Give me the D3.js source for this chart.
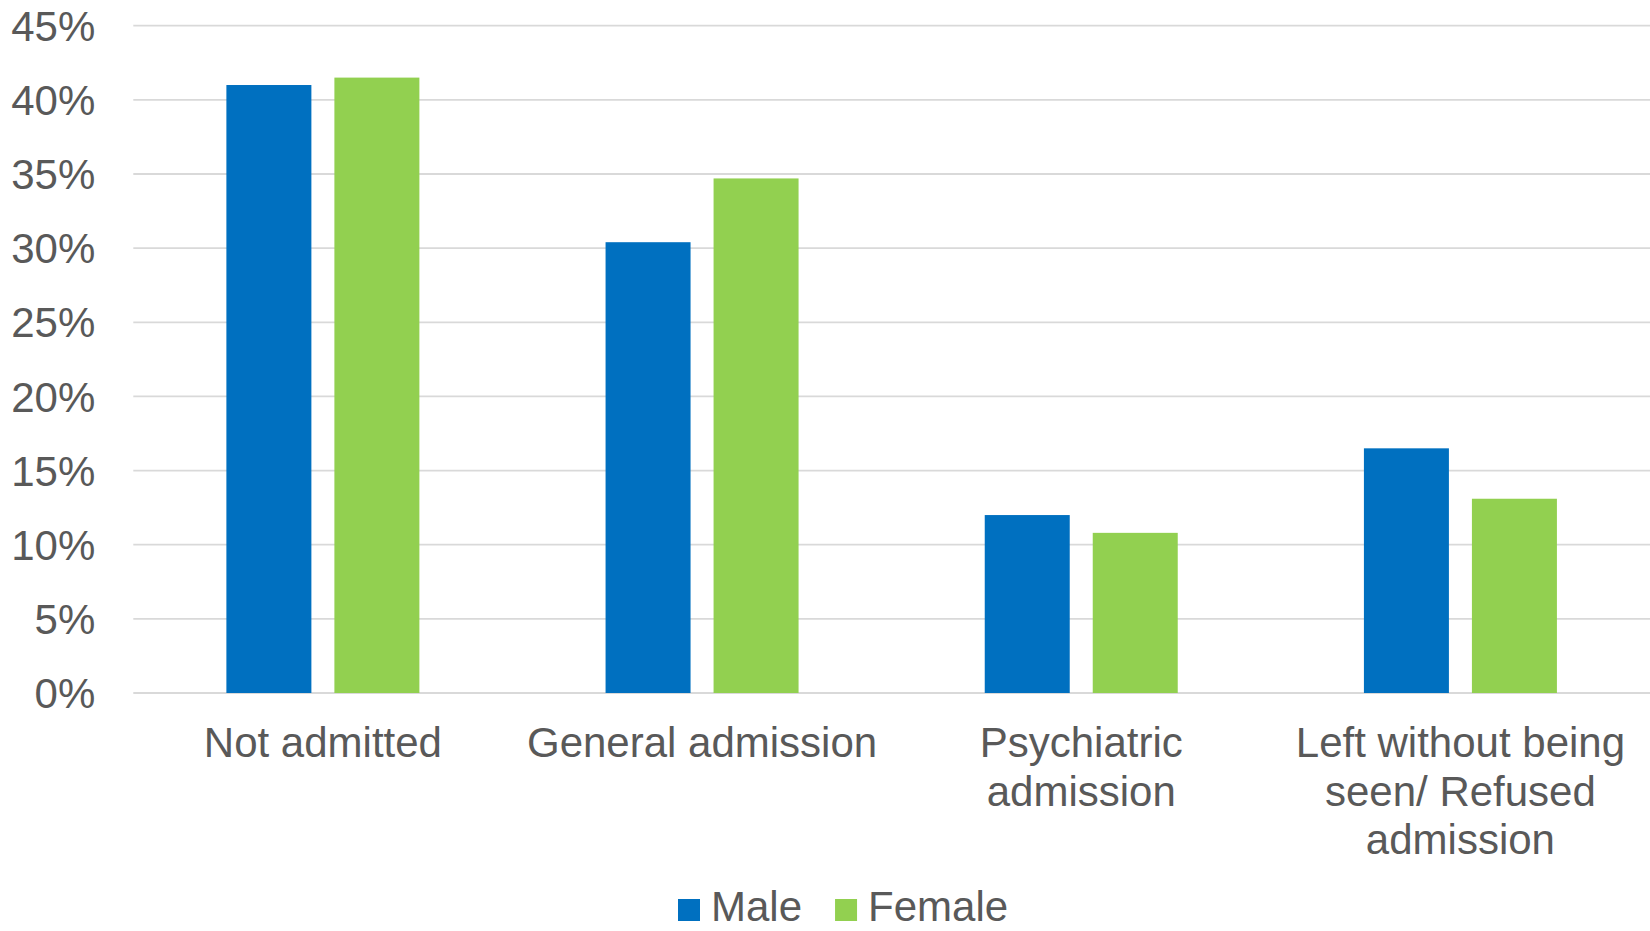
<!DOCTYPE html>
<html>
<head>
<meta charset="utf-8">
<script src="https://cdn.jsdelivr.net/npm/d3@7"></script>
<style>
  html, body { margin: 0; padding: 0; background: #fff; }
  svg { display: block; font-family: "Liberation Sans", Arial, sans-serif; }
</style>
</head>
<body>
<svg id="chart" width="1650" height="931"></svg>
<script>
// Outcome categories and share of presentations by sex
const categories = ["Not admitted", "General admission", "Psychiatric admission", "Left without being seen/ Refused admission"];
const seriesNames = ["Male", "Female"];
const maleValues = [0.410, 0.304, 0.120, 0.165];
const femaleValues = [0.415, 0.347, 0.108, 0.131];
const yTicks = [0, 0.05, 0.10, 0.15, 0.20, 0.25, 0.30, 0.35, 0.40, 0.45];
const colors = { Male: "#0070C0", Female: "#92D050" };

const textColor = "#595959";
const fontSize = 42;

const svg = d3.select("#chart");
const plot = { left: 133.3, right: 1650, top: 25.7, bottom: 693 };

const x0 = d3.scaleBand()
  .domain(categories)
  .range([plot.left, plot.right])
  .paddingInner(0.491)
  .paddingOuter(0.2455);

const x1 = d3.scaleBand()
  .domain(seriesNames)
  .range([0, x0.bandwidth()])
  .paddingInner(0.213)
  .paddingOuter(0);

const y = d3.scaleLinear()
  .domain([0, 0.45])
  .range([plot.bottom, plot.top]);

// Horizontal gridlines
svg.append("g")
  .selectAll("line")
  .data(yTicks)
  .join("line")
  .attr("x1", plot.left)
  .attr("x2", plot.right)
  .attr("y1", d => y(d))
  .attr("y2", d => y(d))
  .attr("stroke", "#d9d9d9")
  .attr("stroke-width", 1.8);

// Y axis labels
const yAxis = d3.axisLeft(y)
  .tickValues(yTicks)
  .tickFormat(d3.format(".0%"))
  .tickSize(0)
  .tickPadding(38);

const yg = svg.append("g")
  .attr("transform", `translate(${plot.left},0)`)
  .call(yAxis);
yg.select(".domain").remove();
yg.selectAll("text")
  .attr("fill", textColor)
  .attr("font-size", fontSize)
  .attr("font-family", "'Liberation Sans', Arial, sans-serif")
  .attr("dy", "0.35em");

// Bars
const rows = categories.map((c, i) => ({
  category: c,
  values: [
    { key: "Male", value: maleValues[i] },
    { key: "Female", value: femaleValues[i] }
  ]
}));

svg.append("g")
  .selectAll("g")
  .data(rows)
  .join("g")
  .attr("transform", d => `translate(${x0(d.category)},0)`)
  .selectAll("rect")
  .data(d => d.values)
  .join("rect")
  .attr("x", d => x1(d.key))
  .attr("width", x1.bandwidth())
  .attr("y", d => y(d.value))
  .attr("height", d => y(0) - y(d.value))
  .attr("fill", d => colors[d.key]);

// Category labels, wrapped to the band width
const xg = svg.append("g")
  .attr("transform", `translate(0,${plot.bottom})`)
  .call(d3.axisBottom(x0).tickSize(0).tickPadding(0));
xg.select(".domain").remove();

const lineHeight = 48.5;
xg.selectAll(".tick text")
  .attr("fill", textColor)
  .attr("font-size", fontSize)
  .attr("font-family", "'Liberation Sans', Arial, sans-serif")
  .each(function(d) {
    const text = d3.select(this);
    const words = d.split(/\s+/);
    const maxW = x0.step();
    text.text(null).attr("y", 0).attr("dy", null);
    let lines = [];
    let line = [];
    let tspan = text.append("tspan");
    words.forEach(w => {
      line.push(w);
      tspan.text(line.join(" "));
      if (tspan.node().getComputedTextLength() > maxW && line.length > 1) {
        line.pop();
        lines.push(line.join(" "));
        line = [w];
        tspan.text(w);
      }
    });
    lines.push(line.join(" "));
    text.text(null);
    lines.forEach((l, i) => {
      text.append("tspan")
        .attr("x", 0)
        .attr("y", 64 + i * lineHeight)
        .text(l);
    });
  });

// Legend
const legend = svg.append("g");
let lx = 678;
seriesNames.forEach(name => {
  legend.append("rect")
    .attr("x", lx)
    .attr("y", 899)
    .attr("width", 22)
    .attr("height", 22)
    .attr("fill", colors[name]);
  const t = legend.append("text")
    .attr("x", lx + 33)
    .attr("y", 921)
    .attr("fill", textColor)
    .attr("font-size", fontSize)
    .text(name);
  lx += 33 + t.node().getComputedTextLength() + 33;
});
</script>
</body>
</html>
